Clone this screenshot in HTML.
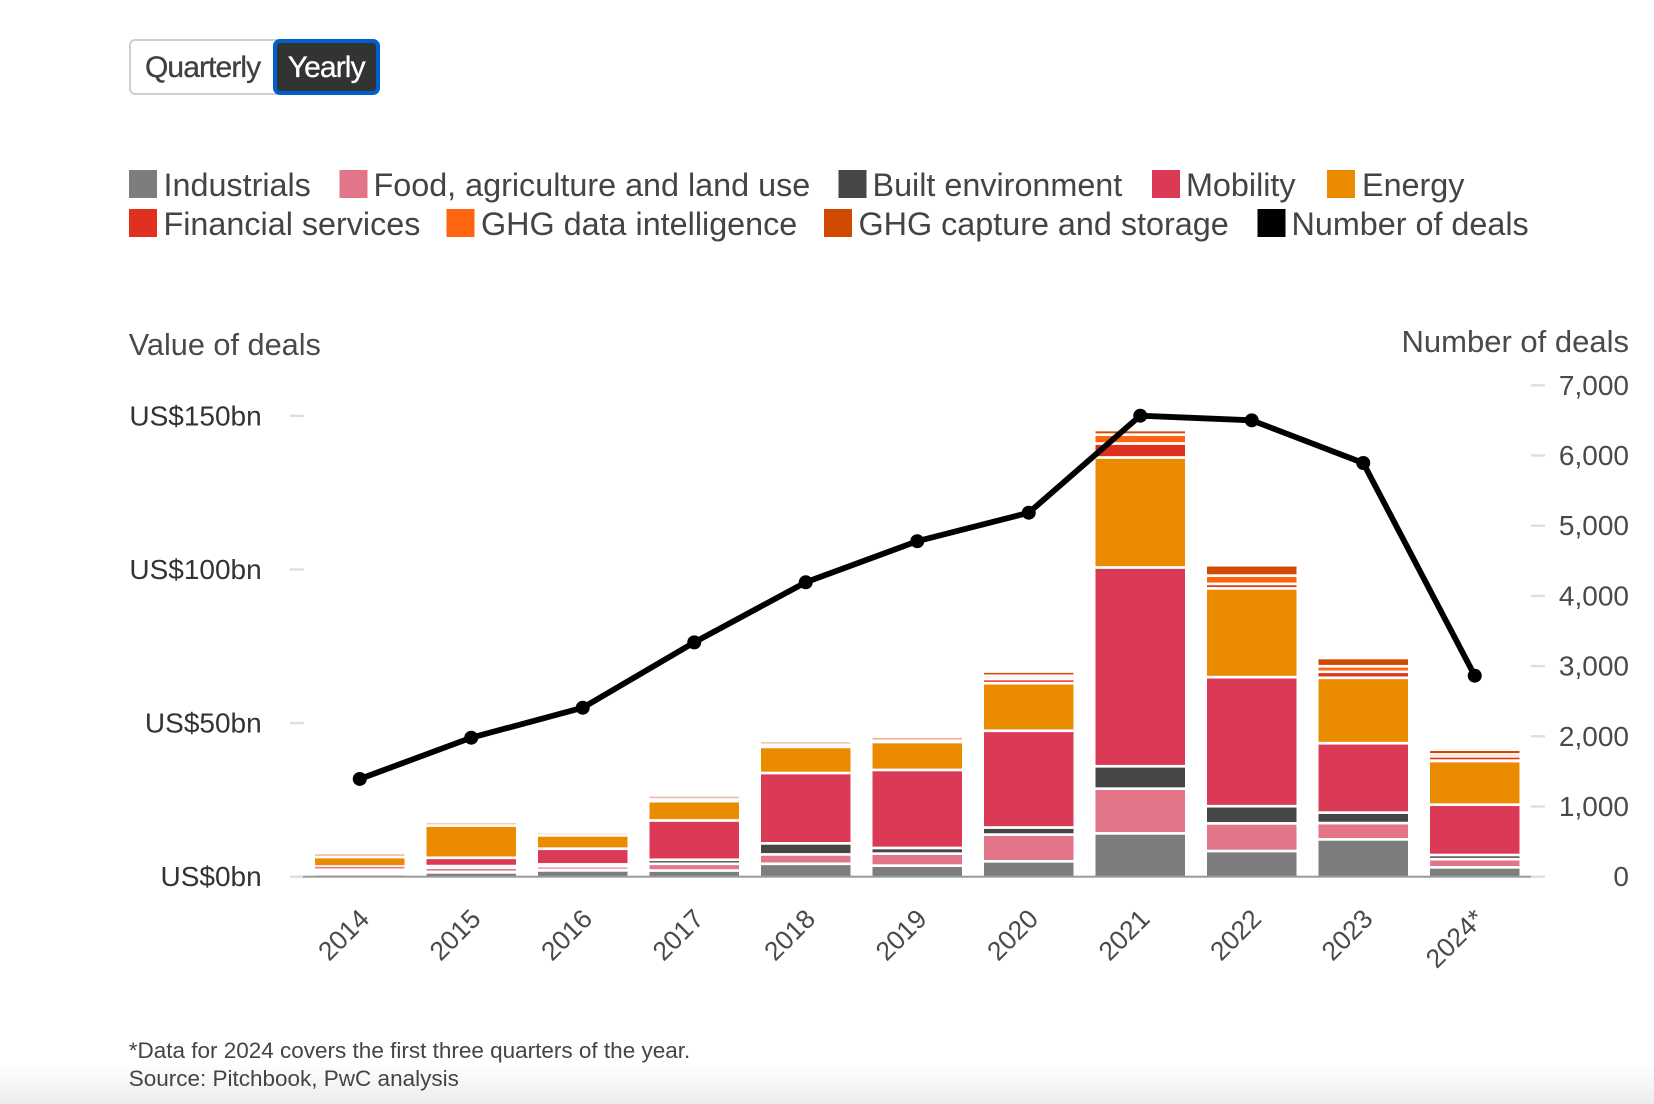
<!DOCTYPE html>
<html lang="en">
<head>
<meta charset="utf-8">
<title>Climate tech deals</title>
<style>
  html, body { margin: 0; padding: 0; background: #fff; }
  body { width: 1654px; height: 1104px; position: relative; overflow: hidden; font-family: "Liberation Sans", Arial, sans-serif; }
  #chart { position: absolute; left: 0; top: 0; }
  .btn { position: absolute; box-sizing: border-box; top: 39px; height: 56px; font-family: "Liberation Sans", Arial, sans-serif; font-size: 30px; letter-spacing: -0.9px; padding: 2px 0 0 0; cursor: pointer; -webkit-text-stroke: 0.3px currentColor; }
  #q { left: 129px; width: 150px; background: #fff; color: #404040; border: 2px solid #cfcfcf; border-radius: 6px 0 0 6px; text-align: left; padding-left: 14px; }
  #y { left: 273px; width: 106.5px; background: #333; color: #fff; border: 4px solid #0060d0; border-radius: 7px; }
  #shade { position: absolute; left: 0; top: 1064px; width: 1654px; height: 40px; background: linear-gradient(#ffffff, #ececec); }
  text { font-family: "Liberation Sans", Arial, sans-serif; }
</style>
</head>
<body>
<div id="shade"></div>
<button id="q" class="btn">Quarterly</button>
<button id="y" class="btn">Yearly</button>
<svg id="chart" width="1654" height="1104" viewBox="0 0 1654 1104" xmlns="http://www.w3.org/2000/svg">
  <g font-size="32.35" fill="#444">
    <g><rect x="129" y="170" width="28" height="28" fill="#7d7d7d"/><text x="163.5" y="196">Industrials</text></g>
    <g><rect x="339.5" y="170" width="28" height="28" fill="#e27588"/><text x="373.5" y="196">Food, agriculture and land use</text></g>
    <g><rect x="838.5" y="170" width="28" height="28" fill="#464646"/><text x="872.5" y="196">Built environment</text></g>
    <g><rect x="1152" y="170" width="28" height="28" fill="#db3a57"/><text x="1186" y="196">Mobility</text></g>
    <g><rect x="1327" y="170" width="28" height="28" fill="#eb8c00"/><text x="1362" y="196">Energy</text></g>
    <g><rect x="129" y="209" width="28" height="28" fill="#e0301e"/><text x="163.5" y="235">Financial services</text></g>
    <g><rect x="446.5" y="209" width="28" height="28" fill="#fe6511"/><text x="481" y="235">GHG data intelligence</text></g>
    <g><rect x="824" y="209" width="28" height="28" fill="#d04a02"/><text x="858.5" y="235">GHG capture and storage</text></g>
    <g><rect x="1257.5" y="209" width="28" height="28" fill="#000"/><text x="1291.5" y="235">Number of deals</text></g>
  </g>
  <text x="128.7" y="355" font-size="30.7" fill="#4a4a4a">Value of deals</text>
  <text x="1629" y="352" font-size="31" fill="#4a4a4a" text-anchor="end">Number of deals</text>
  <g id="left-axis"></g>
  <g id="right-axis"></g>
  <g id="bars"></g>
  <rect x="303" y="875.7" width="1228" height="2" fill="#9a9a9a"/>
  <g id="x-axis"></g>
  <g id="deals-line"></g>
  <text x="128.7" y="1058" font-size="22.5" fill="#444">*Data for 2024 covers the first three quarters of the year.</text>
  <text x="128.7" y="1086" font-size="22.5" fill="#444">Source: Pitchbook, PwC analysis</text>
</svg>
<script>
const years = ['2014','2015','2016','2017','2018','2019','2020','2021','2022','2023','2024*'];
const industrials = [0.8,1.4,2.05,2.0,4.2,3.6,5.0,14.1,8.35,12.15,3.05];
const food = [0.7,1.2,1.1,2.2,3.05,3.9,8.7,14.55,9.0,5.3,2.65];
const built = [0.7,0.85,0.85,1.3,3.6,1.85,2.3,7.3,5.6,3.4,1.35];
const mobility = [1.1,2.7,5.1,12.8,22.9,25.4,31.5,64.7,42,22.6,16.4];
const energy = [3.1,10.5,4.35,6.3,8.5,9.1,15.5,35.8,28.9,21.3,14.2];
const financial = [0,0,0,0.3,0.35,0.2,1.35,4.55,1.45,1.95,1.2];
const ghgData = [0,0,0,0.25,0.35,0.2,0.9,2.9,2.7,1.8,0.95];
const ghgCapture = [1.0,0.97,0.92,1.0,0.98,1.02,1.2,1.5,3.4,2.7,1.55];
const dealCounts = [1392,1980,2407,3338,4194,4779,5185,6567,6501,5893,2863];
const leftTicks = [0,50,100,150];
const leftTickLabels = ['US$0bn','US$50bn','US$100bn','US$150bn'];
const rightTicks = [0,1000,2000,3000,4000,5000,6000,7000];
const rightTickLabels = ['0','1,000','2,000','3,000','4,000','5,000','6,000','7,000'];
const seriesNames = ['industrials','food','built-environment','mobility','energy','financial-services','ghg-data','ghg-capture'];
const seriesValues = [industrials,food,built,mobility,energy,financial,ghgData,ghgCapture];
const seriesColors = ['#7d7d7d','#e27588','#464646','#db3a57','#eb8c00','#e0301e','#fe6511','#d04a02'];

const NS = 'http://www.w3.org/2000/svg';
const Y0 = 876.7;
const GAP = 2.7;
function yLeft(v) { return Y0 - v * 3.072; }
function yRight(v) { return Y0 - v * 0.0702; }
function barX(i) { return 315 + 111.5 * i; }
const BAR_W = 89.5;
function center(i) { return barX(i) + BAR_W / 2; }
function mk(tag, parent) { const e = document.createElementNS(NS, tag); parent.appendChild(e); return e; }

const leftG = document.getElementById('left-axis');
leftTicks.forEach(function (t, i) {
  const tick = mk('rect', leftG);
  
  
  tick.setAttribute('x', 290); tick.setAttribute('y', yLeft(t) - 1.2);
  tick.setAttribute('width', 14); tick.setAttribute('height', 2.4); tick.setAttribute('fill', '#dedede');
  const lab = mk('text', leftG);
  
  
  lab.setAttribute('x', 261.7); lab.setAttribute('y', yLeft(t) + 9.5);
  lab.setAttribute('text-anchor', 'end'); lab.setAttribute('font-size', 28); lab.setAttribute('fill', '#333');
  lab.textContent = leftTickLabels[i];
});

const rightG = document.getElementById('right-axis');
rightTicks.forEach(function (t, i) {
  const tick = mk('rect', rightG);
  
  
  tick.setAttribute('x', 1531); tick.setAttribute('y', yRight(t) - 1.2);
  tick.setAttribute('width', 14); tick.setAttribute('height', 2.4); tick.setAttribute('fill', '#dedede');
  const lab = mk('text', rightG);
  
  
  lab.setAttribute('x', 1629); lab.setAttribute('y', yRight(t) + 9.5);
  lab.setAttribute('text-anchor', 'end'); lab.setAttribute('font-size', 28); lab.setAttribute('fill', '#4a4a4a');
  lab.textContent = rightTickLabels[i];
});

const barsG = document.getElementById('bars');
years.forEach(function (yr, i) {
  let sum = 0;
  seriesValues.forEach(function (vals, s) {
    const v = vals[i];
    if (!v) return;
    const bottom = yLeft(sum);
    const top = yLeft(sum + v);
    const first = sum === 0;
    sum += v;
    const inTop = top + GAP / 2;
    const inBottom = first ? bottom : bottom - GAP / 2;
    const vis = inBottom - inTop;
    if (vis < 0.05) return;
    const r = mk('rect', barsG);
    
    
    r.setAttribute('x', barX(i));
    r.setAttribute('width', BAR_W);
    r.setAttribute('fill', seriesColors[s]);
    if (vis >= 1) {
      r.setAttribute('y', inTop);
      r.setAttribute('height', vis);
    } else {
      r.setAttribute('y', top + 0.3);
      r.setAttribute('height', 1.6);
      r.setAttribute('fill-opacity', vis);
    }
  });
});

const xG = document.getElementById('x-axis');
years.forEach(function (yr, i) {
  const lab = mk('text', xG);
  
  
  const ax = center(i) + 11;
  const ay = 920.5;
  lab.setAttribute('x', ax); lab.setAttribute('y', ay);
  lab.setAttribute('text-anchor', 'end'); lab.setAttribute('font-size', 26.5); lab.setAttribute('fill', '#4a4a4a');
  lab.setAttribute('transform', 'rotate(-45 ' + ax + ' ' + ay + ')');
  lab.textContent = yr;
});

const lineG = document.getElementById('deals-line');
const path = mk('path', lineG);


path.setAttribute('d', dealCounts.map(function (c, i) { return (i ? 'L' : 'M') + center(i) + ' ' + yRight(c); }).join(' '));
path.setAttribute('fill', 'none');
path.setAttribute('stroke', '#000');
path.setAttribute('stroke-width', 5.8);
path.setAttribute('stroke-linejoin', 'round');
dealCounts.forEach(function (c, i) {
  const pt = mk('circle', lineG);
  
  
  pt.setAttribute('cx', center(i)); pt.setAttribute('cy', yRight(c)); pt.setAttribute('r', 7);
  pt.setAttribute('fill', '#000');
});
</script>
</body>
</html>
